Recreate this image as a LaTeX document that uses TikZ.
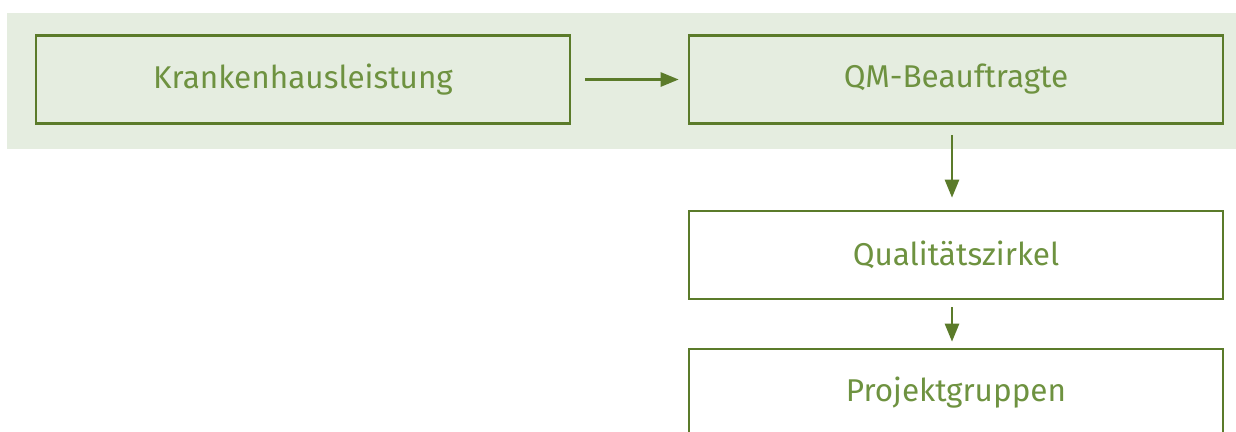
\documentclass[tikz,border=0pt]{standalone}
\usepackage{fontspec}
\setmainfont{Fira Sans}
\usetikzlibrary{arrows.meta}
\definecolor{framegreen}{HTML}{5B7B2A}
\definecolor{textgreen}{HTML}{6E9240}
\definecolor{bandgreen}{HTML}{E5EDE0}
\tikzset{
  stagebox/.style={draw=framegreen, line width=2.6bp, minimum width=534bp, minimum height=88bp,
    inner sep=0pt, text=textgreen, font=\fontsize{31.5bp}{36bp}\selectfont},
  flow/.style={draw=framegreen, line width=2.6bp, -{Triangle[length=18bp,width=14bp]}}
}
\begin{document}
\begin{tikzpicture}[x=1bp,y=-1bp]
  \useasboundingbox (0,0) rectangle (1236,431);
  % shaded band behind the top row
  \fill[bandgreen] (7,13) rectangle (1236,149);
  \node[stagebox] (kh) at (303,79.5) {Krankenhausleistung};
  \node[stagebox] (qm) at (956,79.5) {QM-Beauftragte};
  \node[stagebox] (qz) at (956,255) {Qualitätszirkel};
  \node[stagebox] (pg) at (956,393) {Projektgruppen};
  \draw[flow] ([xshift=14bp]kh.east) -- ([xshift=-9bp]qm.west);
  \draw[flow] ([yshift=-10bp,xshift=-4bp]qm.south) -- ([yshift=12bp,xshift=-4bp]qz.north);
  \draw[flow] ([yshift=-7bp,xshift=-4bp]qz.south) -- ([yshift=6bp,xshift=-4bp]pg.north);
\end{tikzpicture}
\end{document}
